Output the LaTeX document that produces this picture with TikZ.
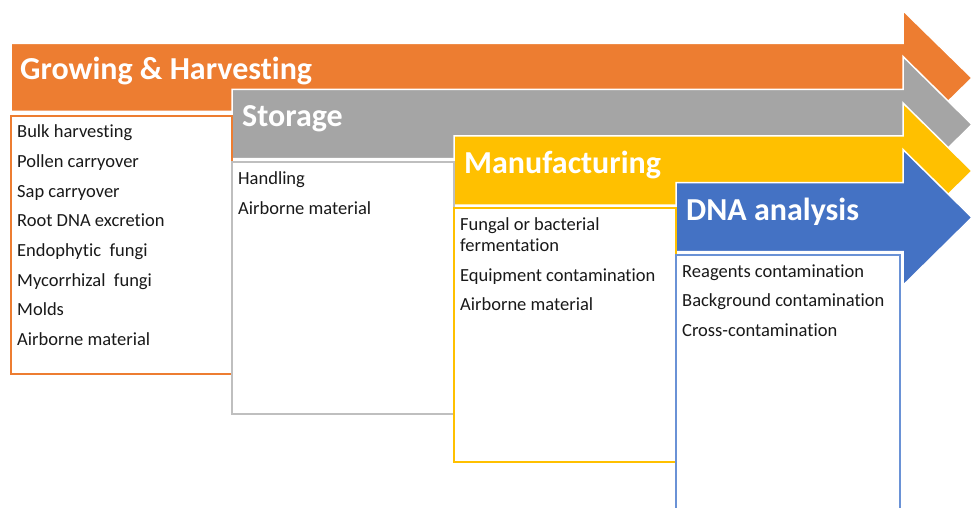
\documentclass[tikz,border=0pt]{standalone}
\usepackage{fontspec}
\setmainfont{Carlito}[RawFeature={-liga}]
\definecolor{corange}{HTML}{ED7D31}
\definecolor{cgray}{HTML}{A5A5A5}
\definecolor{cgrayline}{HTML}{BFBFBF}
\definecolor{cyellow}{HTML}{FFC000}
\definecolor{cblue}{HTML}{4472C4}
\definecolor{cblueline}{HTML}{6A92D6}
\tikzset{
  stagetitle/.style={text=white, font=\fontsize{32}{36}\selectfont\bfseries, inner sep=0pt, anchor=base west},
  item/.style={text=black!90, font=\fontsize{18.5}{20.5}\selectfont, inner sep=0pt, anchor=base west, align=left},
  listbox/.style={fill=white, line width=1.8pt},
  arrowshape/.style={draw=white, line width=1.5pt, line join=miter}
}
\begin{document}
\begin{tikzpicture}[x=1pt,y=-1pt]
\clip (0,0) rectangle (977,508);
\fill[white] (0,0) rectangle (977,508);
% arrows
\filldraw[arrowshape, fill=corange] (11,43.5) -- (903,43.5) -- (903,10.5) -- (972,78) -- (903,145.5) -- (903,111.5) -- (11,111.5) -- cycle;
\filldraw[arrowshape, fill=cgray] (232,89.5) -- (903,89.5) -- (903,56.5) -- (972,124.5) -- (903,192.5) -- (903,158.5) -- (232,158.5) -- cycle;
\filldraw[arrowshape, fill=cyellow] (454,136) -- (903,136) -- (903,103) -- (972,171) -- (903,239) -- (903,205) -- (454,205) -- cycle;
\filldraw[arrowshape, fill=cblue] (676,182.5) -- (903,182.5) -- (903,149.5) -- (972,217.5) -- (903,285.5) -- (903,251.5) -- (676,251.5) -- cycle;
% boxes
\draw[listbox, draw=corange] (11,116) rectangle (232,374);
\draw[listbox, draw=cgrayline] (232,162) rectangle (454,414);
\draw[listbox, draw=cyellow] (454,208) rectangle (676,462);
\draw[listbox, draw=cblueline] (676,255) rectangle (900,530);
% titles
\node[stagetitle] (t1) at (20,80) {Growing \& Harvesting};
\node[stagetitle] (t2) at (242,127) {Storage};
\node[stagetitle] (t3) at (464,173.5) {Manufacturing};
\node[stagetitle] (t4) at (686,220) {DNA analysis};
% items
\foreach \t [count=\i] in {Bulk harvesting, Pollen carryover, Sap carryover, Root DNA excretion, Endophytic\ \ fungi, Mycorrhizal\ \ fungi, Molds, Airborne material}
  \node[item] (g\i) at (17,{138+(\i-1)*29.6}) {\t};
\node[item] (s1) at (238,184.5) {Handling};
\node[item] (s2) at (238,214) {Airborne material};
\node[item] (m1) at (460,251) {Fungal or bacterial\\fermentation};
\node[item] (m2) at (460,281) {Equipment contamination};
\node[item] (m3) at (460,310.5) {Airborne material};
\node[item] (d1) at (682,277) {Reagents contamination};
\node[item] (d2) at (682,306.5) {Background contamination};
\node[item] (d3) at (682,336) {Cross-contamination};
\end{tikzpicture}
\end{document}
